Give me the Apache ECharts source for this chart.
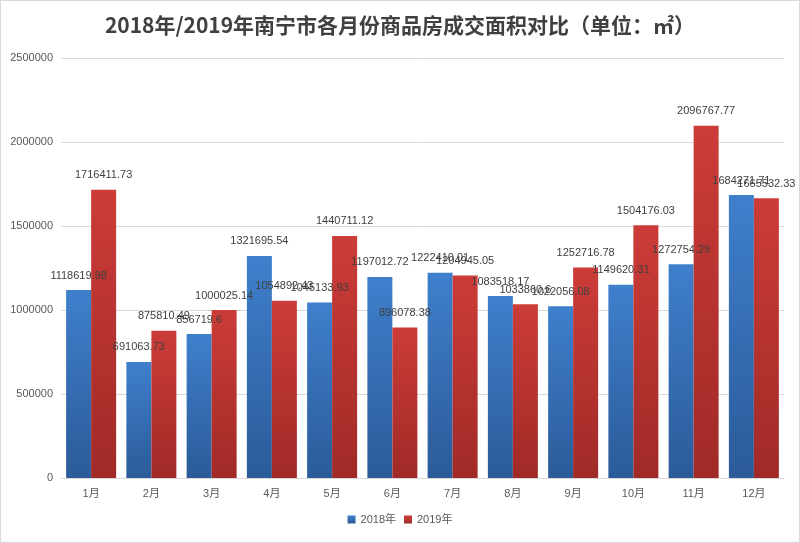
<!DOCTYPE html>
<html><head><meta charset="utf-8">
<script src="https://cdn.jsdelivr.net/npm/echarts@6/dist/echarts.min.js"></script>
<style>html,body{margin:0;padding:0;background:#fff}#c{width:800px;height:543px;box-sizing:border-box;border:1px solid #d9d9d9}</style>
</head><body><div id="c"></div>
<script>
const categories = ['1月','2月','3月','4月','5月','6月','7月','8月','9月','10月','11月','12月'];
const values2018 = [1118619.98, 691063.73, 856719.6, 1321695.54, 1045133.93, 1197012.72, 1222410.01, 1083518.17, 1022056.08, 1149620.31, 1272754.29, 1684271.71];
const values2019 = [1716411.73, 875810.49, 1000025.14, 1054892.43, 1440711.12, 896078.38, 1204945.05, 1033860.6, 1252716.78, 1504176.03, 2096767.77, 1665532.33];
const yTicks = [0, 500000, 1000000, 1500000, 2000000, 2500000];
const titleText = '2018年/2019年南宁市各月份商品房成交面积对比（单位：㎡）';

const chart = echarts.init(document.getElementById('c'));
const font = '"Liberation Sans","Noto Sans CJK SC",sans-serif';
function grad(top, bottom){
  return new echarts.graphic.LinearGradient(0,0,0,1,[{offset:0,color:top},{offset:1,color:bottom}]);
}
const labelCfg = {show:true, position:'top', distance:9, color:'#404040', fontSize:11, fontFamily:font,
  formatter: p => String(p.value)};
chart.setOption({
  animation:false,
  title:{text:titleText, left:'center', top:9,
    textStyle:{fontFamily:'"Noto Sans CJK SC",sans-serif', fontSize:21, fontWeight:'bold', color:'#404040'}},
  legend:{bottom:12, left:'center', itemWidth:8, itemHeight:8, itemGap:8, icon:'rect',
    textStyle:{color:'#595959', fontSize:11, fontFamily:font}},
  grid:{left:60, right:15, top:57, bottom:64, containLabel:false},
  xAxis:{type:'category', data:categories,
    axisLine:{lineStyle:{color:'#d9d9d9'}}, axisTick:{show:false},
    axisLabel:{color:'#595959', fontSize:11, fontFamily:font, margin:10}},
  yAxis:{type:'value', min:yTicks[0], max:yTicks[yTicks.length-1], interval:500000,
    axisLine:{show:false}, axisTick:{show:false},
    splitLine:{lineStyle:{color:'#d9d9d9'}},
    axisLabel:{color:'#595959', fontSize:11, fontFamily:font, margin:8, formatter: v => String(v)}},
  series:[
    {name:'2018年', type:'bar', data:values2018, barGap:'0%', barCategoryGap:'17%',
     itemStyle:{color:grad('#3f7fcc','#2b5b99')}, label:labelCfg},
    {name:'2019年', type:'bar', data:values2019,
     itemStyle:{color:grad('#cc3c38','#a02a27')}, label:labelCfg}
  ]
});
</script></body></html>
